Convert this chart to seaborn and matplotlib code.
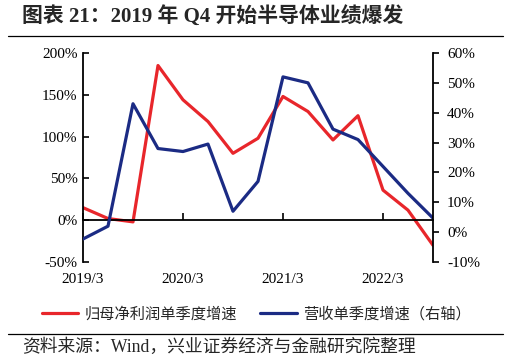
import matplotlib
matplotlib.use("Agg")
import matplotlib.pyplot as plt
import seaborn as sns
import pandas as pd
from matplotlib.lines import Line2D
from matplotlib.ticker import FuncFormatter

# ---- data ----
quarters = ["2019/3", "2019/6", "2019/9", "2019/12",
            "2020/3", "2020/6", "2020/9", "2020/12",
            "2021/3", "2021/6", "2021/9", "2021/12",
            "2022/3", "2022/6", "2022/9"]
profit_growth = [15, 2, -2, 185, 144, 118, 80, 98, 148, 130, 96, 125, 36, 12, -30]
revenue_growth = [-2.3, 2, 43, 28, 27, 29.5, 7, 17, 52, 50, 34.5, 31, 22, 13, 4.7]
xtick_labels = ["2019/3", "2020/3", "2021/3", "2022/3"]
left_ticks = [-50, 0, 50, 100, 150, 200]
right_ticks = [-10, 0, 10, 20, 30, 40, 50, 60]
series_names = ["归母净利润单季度增速", "营收单季度增速（右轴）"]
title = "图表 21：2019 年 Q4 开始半导体业绩爆发"
source = "资料来源：Wind，兴业证券经济与金融研究院整理"

RED = "#E8262B"
BLUE = "#1B2B84"

sns.set_style("white")
plt.rcParams["font.family"] = ["Liberation Serif", "Noto Sans CJK SC"]
plt.rcParams["axes.unicode_minus"] = False

W, H = 511, 363
fig = plt.figure(figsize=(W / 100, H / 100), dpi=100)
ax = fig.add_axes([83 / W, 1 - 262 / H, 350 / W, 209 / H])
ax2 = ax.twinx()

df = pd.DataFrame({"idx": list(range(len(quarters))),
                   "quarter": quarters,
                   "profit": profit_growth,
                   "revenue": revenue_growth})

sns.lineplot(data=df, x="idx", y="profit", ax=ax, color=RED, linewidth=2.3)
sns.lineplot(data=df, x="idx", y="revenue", ax=ax2, color=BLUE, linewidth=2.3)

ax.set_xlim(0, len(quarters) - 1)
ax.set_ylim(left_ticks[0], left_ticks[-1])
ax2.set_ylim(right_ticks[0], right_ticks[-1])

ax.set_xlabel("")
ax.set_ylabel("")
ax2.set_ylabel("")

tick_pos = [quarters.index(t) for t in xtick_labels]
ax.set_xticks(tick_pos)
ax.set_xticklabels(xtick_labels)
ax.set_yticks(left_ticks)
ax2.set_yticks(right_ticks)
pct = FuncFormatter(lambda v, p: f"{int(v)}%")
ax.yaxis.set_major_formatter(pct)
ax2.yaxis.set_major_formatter(pct)

for a in (ax, ax2):
    for s in a.spines.values():
        s.set_color("black")
        s.set_linewidth(1.3)
ax.spines["top"].set_visible(False)
ax.spines["right"].set_visible(False)
ax.spines["bottom"].set_position(("data", 0))
ax2.spines["top"].set_visible(False)
ax2.spines["left"].set_visible(False)
ax2.spines["bottom"].set_visible(False)

ax.tick_params(axis="y", left=True, direction="in", length=4, width=1.2,
               pad=4, labelsize=11, colors="black")
ax.tick_params(axis="x", bottom=True, direction="in", length=5, width=1.2,
               pad=38, labelsize=11, colors="black")
ax2.tick_params(axis="y", right=True, direction="out", length=4, width=1.2,
                pad=6, labelsize=11, colors="black")

handles = [Line2D([], [], color=RED, linewidth=2.3),
           Line2D([], [], color=BLUE, linewidth=2.3)]
fig.legend(handles, series_names, loc="center",
           bbox_to_anchor=(256 / W, 1 - 314 / H), ncol=2, frameon=False,
           fontsize=11, handlelength=2.4, handletextpad=0.4,
           columnspacing=1.5)

fig.text(22 / W, 1 - 16 / H, title, fontsize=15, fontweight="bold",
         va="center", ha="left")
fig.add_artist(Line2D([8 / W, 503 / W], [1 - 35.5 / H] * 2, color="black",
                      linewidth=0.9, transform=fig.transFigure))
fig.add_artist(Line2D([8 / W, 503 / W], [1 - 334 / H] * 2, color="black",
                      linewidth=0.9, transform=fig.transFigure))
fig.text(22 / W, 1 - 347 / H, source, fontsize=12.8, va="center", ha="left")

fig.savefig("out.png", dpi=100)
